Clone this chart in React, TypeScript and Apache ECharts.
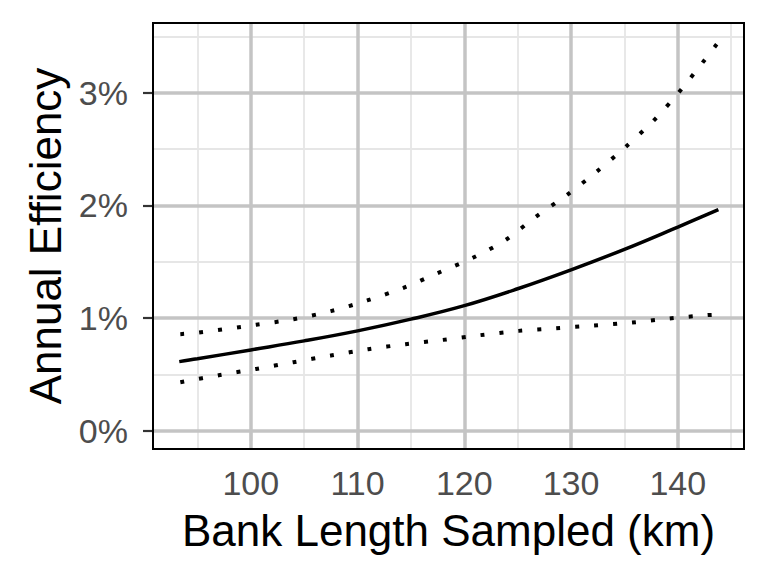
import React, { useEffect, useRef } from "react";
import * as echarts from "echarts";

// Bank length sampled (km) and annual efficiency (%)
const fitX = [93.3, 95, 100, 105, 110, 115, 120, 125, 130, 135, 140, 143.8];
const fitY = [0.613, 0.638, 0.717, 0.797, 0.886, 0.99, 1.11, 1.26, 1.428, 1.61, 1.808, 1.962];

const upperX = [93.4, 95, 100.5, 104.0, 107.5, 110.9, 114.3, 117.5, 120.8, 123.9, 126.7, 129.6, 132.4, 135.1, 137.7, 140.1, 142.3, 143.8];
const upperY = [0.857, 0.87, 0.94, 0.99, 1.061, 1.156, 1.268, 1.399, 1.535, 1.695, 1.9, 2.092, 2.3, 2.519, 2.75, 3.004, 3.266, 3.45];

const lowerX = [93.4, 97.0, 100.5, 104.0, 107.5, 111.0, 114.5, 118.0, 121.5, 125.1, 128.6, 132.1, 135.7, 139.2, 142.8, 143.8];
const lowerY = [0.43, 0.492, 0.548, 0.608, 0.667, 0.723, 0.768, 0.806, 0.848, 0.886, 0.91, 0.933, 0.96, 0.996, 1.026, 1.03];

const xMajor = [100, 110, 120, 130, 140];
const xMinor = [95, 105, 115, 125, 135, 145];
const yMajor = [0, 1, 2, 3];
const yMinor = [0.5, 1.5, 2.5, 3.5];

const X_MIN = 90.84;
const X_MAX = 146.2;
const Y_MIN = -0.163;
const Y_MAX = 3.62;

const GRID = { left: 153, top: 23, width: 591, height: 426 };
const FONT = "'Liberation Sans', Arial, Helvetica, sans-serif";

const zip = (xs: number[], ys: number[]) => xs.map((x, i) => [x, ys[i]]);

export default function App() {
  const ref = useRef<HTMLDivElement>(null);
  useEffect(() => {
    if (!ref.current) return;
    const chart = echarts.init(ref.current, undefined, { renderer: "svg" });
    const major = { color: "#c4c4c4", width: 3.5, type: "solid" };
    const minor = { color: "#e6e6e6", width: 1.8, type: "solid" };
    const gridLines = [
      ...xMinor.map((v) => ({ xAxis: v, lineStyle: minor })),
      ...yMinor.map((v) => ({ yAxis: v, lineStyle: minor })),
      ...xMajor.map((v) => ({ xAxis: v, lineStyle: major })),
      ...yMajor.map((v) => ({ yAxis: v, lineStyle: major })),
    ];
    chart.setOption({
      animation: false,
      backgroundColor: "#ffffff",
      grid: { ...GRID, show: false },
      xAxis: {
        type: "value",
        min: X_MIN,
        max: X_MAX,
        name: "Bank Length Sampled (km)",
        nameLocation: "middle",
        nameGap: 59,
        nameTextStyle: { color: "#000", fontSize: 44, fontFamily: FONT },
        axisLine: { show: false },
        axisTick: { show: true, length: 10, customValues: xMajor, lineStyle: { color: "#333", width: 2.2 } },
        axisLabel: { customValues: xMajor, color: "#4d4d4d", fontSize: 34, fontFamily: FONT, margin: 17 },
        splitLine: { show: false },
      },
      yAxis: {
        type: "value",
        min: Y_MIN,
        max: Y_MAX,
        name: "Annual Efficiency",
        nameLocation: "middle",
        nameGap: 84,
        nameRotate: 90,
        nameTextStyle: { color: "#000", fontSize: 44, fontFamily: FONT },
        axisLine: { show: false },
        axisTick: { show: true, length: 10, customValues: yMajor, lineStyle: { color: "#333", width: 2.2 } },
        axisLabel: {
          customValues: yMajor,
          color: "#4d4d4d",
          fontSize: 34,
          fontFamily: FONT,
          margin: 25,
          formatter: (v: number) => `${v}%`,
        },
        splitLine: { show: false },
      },
      graphic: [
        {
          type: "rect",
          z: 100,
          silent: true,
          shape: { x: GRID.left, y: GRID.top, width: GRID.width, height: GRID.height },
          style: { fill: "none", stroke: "#000", lineWidth: 2 },
        },
      ],
      series: [
        {
          type: "line",
          data: [],
          silent: true,
          z: 1,
          markLine: {
            silent: true,
            symbol: ["none", "none"],
            label: { show: false },
            emphasis: { disabled: true },
            data: gridLines,
          },
        },
        {
          type: "line",
          data: zip(upperX, upperY),
          smooth: 0.3,
          showSymbol: false,
          z: 5,
          lineStyle: { color: "#000", width: 4, type: [4, 15] },
        },
        {
          type: "line",
          data: zip(lowerX, lowerY),
          smooth: 0.3,
          showSymbol: false,
          z: 5,
          lineStyle: { color: "#000", width: 4, type: [4, 15] },
        },
        {
          type: "line",
          data: zip(fitX, fitY),
          smooth: 0.4,
          showSymbol: false,
          z: 6,
          lineStyle: { color: "#000", width: 3.5 },
        },
      ],
    });
    return () => chart.dispose();
  }, []);
  return (
    <div
      ref={ref}
      style={{ position: "fixed", left: 0, top: 0, width: 768, height: 576, background: "#fff" }}
    />
  );
}
